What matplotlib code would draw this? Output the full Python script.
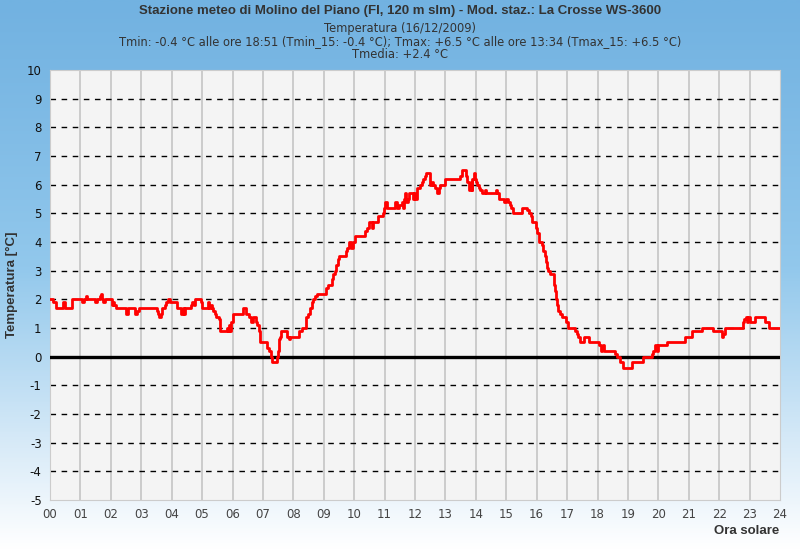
import numpy as np
import matplotlib
matplotlib.use("Agg")
import matplotlib.pyplot as plt
from matplotlib.colors import LinearSegmentedColormap

# temperature readings: hour of change -> value (step plot)
ore = [0.00, 0.10, 0.21, 0.43, 0.50, 0.72, 1.03, 1.06, 1.12, 1.17, 1.23, 1.47, 1.55,
       1.63, 1.67, 1.71, 1.75, 1.82, 2.04, 2.08, 2.12, 2.18, 2.50, 2.56, 2.78, 2.81,
       2.87, 2.93, 3.52, 3.56, 3.59, 3.66, 3.69, 3.77, 3.82, 3.88, 3.93, 4.19, 4.32,
       4.36, 4.40, 4.45, 4.62, 4.67, 4.72, 4.76, 4.95, 5.00, 5.20, 5.24, 5.28, 5.33,
       5.37, 5.41, 5.47, 5.54, 5.58, 5.83, 5.86, 5.90, 5.93, 5.96, 6.02, 6.35, 6.44,
       6.55, 6.60, 6.66, 6.77, 6.82, 6.87, 6.90, 6.92, 7.12, 7.20, 7.26, 7.31, 7.45,
       7.48, 7.52, 7.55, 7.58, 7.78, 7.85, 7.89, 8.20, 8.27, 8.41, 8.49, 8.55, 8.60,
       8.66, 8.71, 8.79, 9.07, 9.13, 9.26, 9.31, 9.36, 9.41, 9.47, 9.51, 9.73, 9.78,
       9.84, 9.89, 9.95, 10.02, 10.36, 10.43, 10.49, 10.59, 10.63, 10.77, 10.94, 10.98,
       11.01, 11.07, 11.34, 11.40, 11.48, 11.56, 11.59, 11.64, 11.67, 11.72, 11.78,
       11.81, 11.92, 11.97, 12.01, 12.05, 12.16, 12.23, 12.27, 12.32, 12.36, 12.49,
       12.55, 12.60, 12.66, 12.71, 12.80, 12.82, 12.98, 13.48, 13.53, 13.68, 13.72,
       13.79, 13.83, 13.86, 13.89, 13.93, 13.97, 14.00, 14.05, 14.09, 14.14, 14.19,
       14.29, 14.33, 14.66, 14.71, 14.76, 14.92, 14.99, 15.05, 15.12, 15.16, 15.21,
       15.53, 15.67, 15.76, 15.83, 15.86, 15.97, 16.02, 16.07, 16.16, 16.22, 16.27,
       16.30, 16.33, 16.38, 16.44, 16.57, 16.61, 16.63, 16.68, 16.71, 16.77, 16.82,
       16.98, 17.02, 17.26, 17.31, 17.37, 17.42, 17.56, 17.73, 18.06, 18.10, 18.14,
       18.17, 18.20, 18.57, 18.63, 18.74, 18.83, 19.15, 19.48, 19.78, 19.83, 19.89,
       19.94, 19.99, 20.27, 20.89, 21.12, 21.42, 21.80, 22.08, 22.12, 22.19, 22.77,
       22.82, 22.88, 22.91, 22.94, 23.00, 23.17, 23.50, 23.65, 24.00]
temp = [2.0, 1.9, 1.7, 1.9, 1.7, 2.0, 2.0, 1.9, 2.0, 2.1, 2.0, 1.9, 2.0,
        2.1, 2.2, 2.0, 1.9, 2.0, 1.8, 1.9, 1.8, 1.7, 1.5, 1.7, 1.6, 1.5,
        1.6, 1.7, 1.6, 1.5, 1.4, 1.5, 1.7, 1.8, 1.9, 2.0, 1.9, 1.7, 1.5,
        1.7, 1.5, 1.7, 1.8, 1.9, 1.8, 2.0, 1.9, 1.7, 1.9, 1.7, 1.8, 1.7,
        1.6, 1.5, 1.4, 1.3, 0.9, 1.0, 0.9, 1.1, 0.9, 1.2, 1.5, 1.7, 1.5,
        1.4, 1.2, 1.4, 1.2, 1.1, 0.9, 0.8, 0.5, 0.3, 0.2, 0.0, -0.2, 0.0,
        0.2, 0.6, 0.7, 0.9, 0.7, 0.6, 0.7, 0.9, 1.0, 1.4, 1.5, 1.7, 1.9,
        2.0, 2.1, 2.2, 2.4, 2.5, 2.7, 2.9, 3.0, 3.2, 3.4, 3.5, 3.7, 3.8,
        4.0, 3.8, 4.0, 4.2, 4.4, 4.5, 4.7, 4.5, 4.7, 4.9, 5.0, 5.2,
        5.4, 5.2, 5.4, 5.2, 5.3, 5.4, 5.2, 5.5, 5.7, 5.4, 5.5,
        5.7, 5.5, 5.7, 5.5, 5.9, 6.0, 6.1, 6.2, 6.3, 6.4, 6.0,
        6.1, 6.0, 5.9, 5.7, 5.9, 6.0, 6.2, 6.3, 6.5, 6.3, 6.1,
        5.8, 6.1, 5.8, 6.2, 6.4, 6.2, 6.1, 6.0, 5.9, 5.8, 5.7,
        5.8, 5.7, 5.8, 5.7, 5.5, 5.4, 5.5, 5.4, 5.3, 5.2, 5.0,
        5.2, 5.1, 5.0, 4.9, 4.7, 4.5, 4.3, 4.0, 3.9, 3.7, 3.5,
        3.3, 3.1, 3.0, 2.9, 2.5, 2.3, 2.0, 1.8, 1.6, 1.5, 1.4,
        1.2, 1.0, 0.9, 0.8, 0.7, 0.5, 0.7, 0.5, 0.4, 0.2, 0.3,
        0.4, 0.2, 0.1, 0.0, -0.2, -0.4, -0.2, 0.0, 0.1, 0.2, 0.4,
        0.2, 0.4, 0.5, 0.7, 0.9, 1.0, 0.9, 0.7, 0.8, 1.0, 1.2,
        1.3, 1.4, 1.2, 1.4, 1.2, 1.4, 1.2, 1.0, 1.0]

ore_lab = ["%02d" % h for h in range(25)]
y_ticks = list(range(-5, 11))

titolo = "Stazione meteo di Molino del Piano (FI, 120 m slm) - Mod. staz.: La Crosse WS-3600"
sottotitolo = ("Temperatura (16/12/2009)\n"
               "Tmin: -0.4 °C alle ore 18:51 (Tmin_15: -0.4 °C); Tmax: +6.5 °C alle ore 13:34 (Tmax_15: +6.5 °C)\n"
               "Tmedia: +2.4 °C")

narrow = ["Liberation Sans", "DejaVu Sans"]

fig = plt.figure(figsize=(8, 5.5), dpi=100)

# background gradient
bg = fig.add_axes([0, 0, 1, 1], zorder=-10)
cmap = LinearSegmentedColormap.from_list("bg", [(0, "#72b2e1"), (0.45, "#92c8ec"), (0.8, "#d9ebf8"), (1.0, "#ffffff")])
grad = np.linspace(0, 1, 256) ** 1.1
bg.imshow(grad[:, None], aspect="auto", cmap=cmap, extent=[0, 1, 0, 1], origin="upper")
bg.axis("off")

ax = fig.add_axes([50 / 800, 1 - 500 / 550, 730 / 800, 430 / 550])
ax.set_facecolor("#f4f4f4")
for s in ax.spines.values():
    s.set_color("#cccccc")

ax.set_xlim(0, 24)
ax.set_ylim(-5, 10)
ax.set_xticks(range(25))
ax.set_xticklabels(ore_lab, color="#444444", fontsize=8.5)
ax.set_yticks(y_ticks)
ax.set_yticklabels([str(v) for v in y_ticks], color="#111111", fontsize=8.5)
ax.tick_params(length=0, pad=6)

for h in range(1, 24):
    ax.axvline(h, color="#c8c8c8", lw=1.3, zorder=1)
for v in y_ticks[1:-1]:
    if v != 0:
        ax.axhline(v, color="black", lw=1, ls=(0, (4, 4)), zorder=2)
ax.axhline(0, color="black", lw=2.4, zorder=3)

ax.plot(ore, temp, drawstyle="steps-post", color="red", lw=2.0, zorder=4)

fig.text(0.5, 1 - 11 / 550, titolo, ha="center", va="center", fontsize=9.5,
         fontweight="bold", family=narrow, color="#333333")
fig.text(0.5, 1 - 41.5 / 550, sottotitolo, ha="center", va="center", fontsize=8.3,
         color="#333333", linespacing=1.0)
fig.text(12 / 800, 1 - 285 / 550, "Temperatura [°C]", rotation=90, ha="center", va="center",
         fontsize=9.5, fontweight="bold", family=narrow, color="#333333")
fig.text(779 / 800, 1 - 531 / 550, "Ora solare", ha="right", va="center",
         fontsize=9.5, fontweight="bold", family=narrow, color="#333333")

fig.savefig("out.png", dpi=100)
